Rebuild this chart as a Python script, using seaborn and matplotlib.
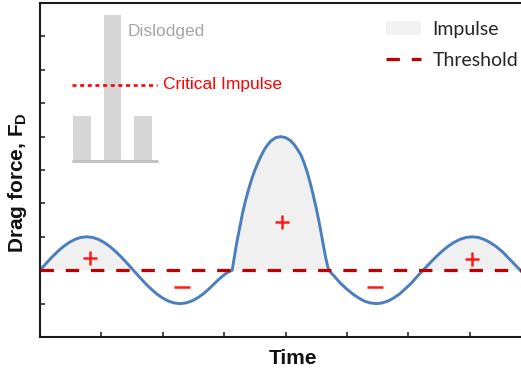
import numpy as np
import pandas as pd
import matplotlib
matplotlib.use('Agg')
import matplotlib.pyplot as plt
import seaborn as sns
from matplotlib.patches import Patch
from matplotlib.lines import Line2D

# ---- data ----
time = [0.000, 0.095, 0.190, 0.285, 0.380, 0.475, 0.570, 0.665, 0.760, 0.855,
        0.950, 1.045, 1.140, 1.235, 1.330, 1.425, 1.520, 1.615, 1.710, 1.805,
        1.900, 1.995, 2.090, 2.185, 2.280, 2.375, 2.470, 2.565, 2.660, 2.755,
        2.850, 2.945, 3.040, 3.130,
        3.17, 3.21, 3.26, 3.30, 3.35, 3.40, 3.45, 3.50, 3.55, 3.60, 3.65, 3.70,
        3.76, 3.84, 3.92, 4.00, 4.08, 4.14, 4.20, 4.25, 4.30, 4.35, 4.40, 4.45,
        4.50, 4.55, 4.60, 4.65, 4.70,
        4.80, 4.89, 4.99, 5.09, 5.19, 5.28, 5.38, 5.48, 5.57, 5.67, 5.76, 5.86,
        5.95, 6.05, 6.14, 6.24, 6.34, 6.44, 6.54, 6.64, 6.74, 6.84, 6.94, 7.04,
        7.14, 7.23, 7.33, 7.43, 7.53, 7.62, 7.72, 7.82, 7.92]
drag = [2.000, 2.195, 2.383, 2.556, 2.707, 2.831, 2.924, 2.981, 3.000, 2.981,
        2.924, 2.831, 2.707, 2.556, 2.383, 2.195, 2.000, 1.805, 1.617, 1.444,
        1.293, 1.169, 1.076, 1.019, 1.000, 1.019, 1.076, 1.169, 1.293, 1.444,
        1.617, 1.780, 1.920, 2.000,
        2.45, 2.88, 3.34, 3.72, 4.10, 4.44, 4.74, 5.00, 5.22, 5.42, 5.60, 5.74,
        5.87, 5.97, 6.00, 5.97, 5.88, 5.76, 5.60, 5.45, 5.22, 4.95, 4.62, 4.25,
        3.85, 3.40, 2.90, 2.40, 2.00,
        1.805, 1.617, 1.444, 1.293, 1.169, 1.076, 1.019, 1.000, 1.019, 1.076, 1.169, 1.293,
        1.444, 1.617, 1.805, 2.000, 2.195, 2.383, 2.556, 2.707, 2.831, 2.924, 2.981, 3.000,
        2.981, 2.924, 2.831, 2.707, 2.556, 2.383, 2.195, 2.000, 1.810]
threshold = 2.0
plus_x = [0.81, 3.94, 7.03]
plus_y = [2.36, 3.43, 2.34]
minus_x = [2.32, 5.46]
minus_y = [1.50, 1.50]
x_ticks = [1, 2, 3, 4, 5, 6, 7]
y_ticks = [1, 2, 3, 4, 5, 6, 7, 8, 9]
inset_cats = ['left', 'dislodged', 'right']
inset_heights = [1.0, 3.25, 1.0]
critical_impulse = 1.69

# ---- style ----
sns.set_theme(style='white')
plt.rcParams['font.family'] = ['Liberation Sans', 'DejaVu Sans']
plt.rcParams['mathtext.fontset'] = 'custom'
plt.rcParams['mathtext.rm'] = 'Liberation Sans'
plt.rcParams['mathtext.bf'] = 'Liberation Sans:bold'

W, H = 521, 372
fig = plt.figure(figsize=(W / 100, H / 100), dpi=100)


def fx(px):
    return px / W


def fy(py):
    return 1 - py / H


ax = fig.add_axes([fx(40), fy(337), 491.2 / W, 334 / H])

df = pd.DataFrame({'Time': time, 'Drag': drag})
d = np.array(drag)
ax.fill_between(time, drag, threshold, where=d >= threshold, interpolate=True,
                color='#f0f0f0', lw=0, zorder=1)
sns.lineplot(data=df, x='Time', y='Drag', ax=ax, color='#4a7ebf', lw=2.1, zorder=2)
ax.axhline(threshold, color='#c00000', lw=2.3, ls=(0, (4.2, 3.7)), zorder=3)
sns.scatterplot(x=plus_x, y=plus_y, marker='+', s=95, color='#ff1a1a',
                linewidth=1.8, ax=ax, zorder=4)
sns.scatterplot(x=minus_x, y=minus_y, marker='_', s=132, color='#ff1a1a',
                linewidth=1.8, ax=ax, zorder=4)

ax.set_xlim(0, 8)
ax.set_ylim(0, 10)
ax.set_xticks(x_ticks)
ax.set_yticks(y_ticks)
ax.tick_params(direction='in', length=3.6, width=1.1, color='#1a1a1a',
               labelbottom=False, labelleft=False, bottom=True, left=True)
for s in ax.spines.values():
    s.set_linewidth(1.5)
    s.set_color('#1a1a1a')
ax.grid(False)
ax.set_xlabel('')
ax.set_ylabel('')

fig.text(fx(293), fy(358), 'Time', ha='center', va='center',
         fontsize=15, fontweight='bold', color='#111111')
fig.text(fx(18), fy(183), r'Drag force, $\mathbf{F_D}$', rotation=90,
         ha='center', va='center', fontsize=15, fontweight='bold', color='#111111')

# legend
handles = [Patch(facecolor='#f2f2f2', edgecolor='none', label='Impulse'),
           Line2D([], [], color='#c00000', lw=2.3, ls=(0, (4.2, 3.7)), label='Threshold')]
ax.legend(handles=handles, loc='upper left', bbox_to_anchor=(fx(386), fy(21)),
          bbox_transform=fig.transFigure, frameon=False,
          prop={'family': 'Lato', 'size': 14}, handlelength=1.8,
          handletextpad=0.6, labelspacing=0.7, borderpad=0, borderaxespad=0)

# inset sketch
axin = fig.add_axes([fx(72.7), fy(161), 84 / W, 146 / H])
sns.barplot(x=inset_cats, y=inset_heights, ax=axin, color='#d6d6d6',
            width=0.58, saturation=1, linewidth=0)
axin.set_xlim(-0.29, 2.435)
axin.set_ylim(0, 3.25)
axin.axis('off')
axin.axhline(0, color='#c4c4c4', lw=2.2, clip_on=False)
axin.axhline(critical_impulse, xmin=-0.012, xmax=1, color='#ff0000', lw=1.9,
             ls=(0, (1.5, 1.4)), clip_on=False)

fig.text(fx(162.7), fy(85), 'Critical Impulse', ha='left', va='center',
         fontsize=12.5, color='#ff0000')
fig.text(fx(127.7), fy(31.5), 'Dislodged', ha='left', va='center',
         fontsize=12.5, color='#a6a6a6')

fig.savefig('out.png', dpi=100)
